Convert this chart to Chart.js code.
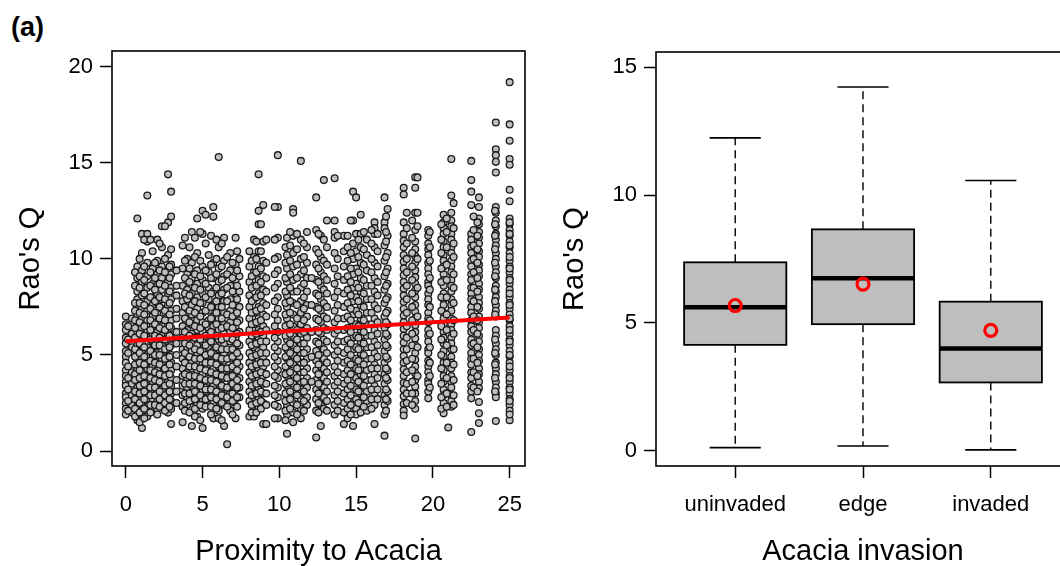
<!DOCTYPE html>
<html>
<head>
<meta charset="utf-8">
<script src="https://cdn.jsdelivr.net/npm/chart.js"></script>
<style>
  html, body { margin: 0; padding: 0; background: #fff; overflow: hidden; }
  body { width: 1060px; height: 566px; position: relative; }
  #tag { position: absolute; left: 11px; top: 12px; font: bold 27px 'Liberation Sans', Arial, sans-serif; }
  .panel { position: absolute; top: 0; width: 540px; height: 566px; }
  #left { left: 0; }
  #right { left: 540px; }
</style>
</head>
<body>
<div id="tag">(a)</div>
<div class="panel" id="left"><canvas id="scatter" width="540" height="566"></canvas></div>
<div class="panel" id="right"><canvas id="boxes" width="540" height="566"></canvas></div>

<script>
  const proximityCols = [0, 0.4, 0.75, 1.05, 1.4, 1.75, 2.05, 2.35, 2.75, 2.95,
    3.7, 4.0, 4.3, 4.65, 5.0, 5.4, 5.7, 6.05, 6.4, 6.6, 6.8, 7.15, 7.4,
    8.05, 8.35, 8.65, 8.95, 9.9, 10.5, 10.9, 11.4, 11.8, 12.4, 12.7, 12.9,
    13.6, 14.2, 14.8, 15.0, 15.3, 15.7, 16.2, 16.85, 17.05,
    18.1, 18.85, 19.7, 20.7, 21.0, 21.2, 22.5, 23.0, 24.1, 25.0,
    0.15, 0.6, 0.9, 1.2, 1.6, 1.9, 2.2, 2.55, 2.85, 3.3, 3.85, 4.15, 4.5, 4.85,
    5.2, 5.55, 5.9, 6.25, 6.6, 6.95, 7.25, 8.2, 8.5, 8.8, 9.15, 9.7, 10.4, 10.7,
    11.15, 11.6, 12.1, 12.55, 13.1, 13.8, 14.45, 14.65, 15.15, 15.5, 16.0, 16.4,
    16.95, 18.3, 18.65, 19.0, 19.8, 20.55, 20.9, 21.35, 22.65, 22.9, 24.05, 25.0];
  const raoQCols = [
    [7.0, 6.6, 6.3, 5.9, 5.6, 5.2, 4.9, 4.6, 4.2, 3.9, 3.6, 3.4, 3.0, 2.8, 2.5, 2.2, 1.9],
    [6.9, 6.1, 5.4, 4.1, 3.5, 2.9, 2.4, 2.0],
    [12.1, 9.6, 9.0, 8.3, 7.9, 7.5, 7.1, 6.6, 6.2, 5.8, 5.5, 5.0, 4.7, 4.3, 4.0, 3.6, 3.3, 2.9, 2.6, 2.3, 1.9, 1.6],
    [11.3, 10.3, 9.4, 8.8, 8.1, 7.4, 6.9, 6.4, 6.0, 5.6, 5.2, 4.8, 4.4, 4.1, 3.7, 3.2, 2.8, 2.4, 2.1, 1.2],
    [13.3, 11.3, 10.9, 9.8, 9.1, 8.5, 7.8, 7.3, 6.8, 6.3, 5.9, 5.4, 5.0, 4.6, 4.3, 3.9, 3.4, 3.0, 2.6, 2.3, 1.8],
    [10.4, 9.5, 8.7, 8.0, 7.6, 7.0, 6.5, 6.1, 5.7, 5.3, 4.9, 4.4, 4.0, 3.6, 3.1, 2.7, 2.2],
    [11.0, 9.9, 9.2, 8.6, 8.2, 7.7, 7.2, 6.7, 6.2, 5.8, 5.4, 5.1, 4.7, 4.2, 3.8, 3.5, 3.1, 2.6, 2.2, 1.9],
    [11.7, 10.6, 9.6, 9.0, 8.4, 7.9, 7.4, 6.9, 6.5, 6.0, 5.6, 5.2, 4.8, 4.5, 4.0, 3.7, 3.2, 2.8, 2.5],
    [14.4, 11.9, 10.2, 9.4, 8.8, 8.1, 7.6, 7.0, 6.6, 6.1, 5.7, 5.3, 4.9, 4.4, 4.1, 3.6, 3.3, 2.9, 2.4, 2.0],
    [13.5, 12.2, 10.5, 9.7, 9.2, 8.5, 7.9, 7.3, 6.8, 6.4, 5.9, 5.5, 5.0, 4.6, 4.2, 3.8, 3.4, 3.0, 2.6, 2.2, 1.4],
    [10.7, 9.5, 8.6, 7.8, 7.2, 6.5, 5.9, 5.3, 4.8, 4.3, 3.9, 3.4, 2.9, 2.3, 1.5],
    [10.0, 9.2, 8.4, 7.9, 7.4, 6.9, 6.3, 5.8, 5.4, 5.0, 4.6, 4.1, 3.7, 3.3, 2.8, 2.4],
    [11.4, 9.8, 9.0, 8.2, 7.6, 7.1, 6.6, 6.1, 5.6, 5.2, 4.7, 4.3, 3.8, 3.4, 3.0, 2.6, 1.3],
    [12.1, 10.3, 9.4, 8.7, 8.0, 7.4, 6.8, 6.3, 5.9, 5.5, 5.1, 4.6, 4.2, 3.7, 3.3, 2.9, 2.5, 1.8],
    [12.5, 11.3, 9.6, 8.9, 8.2, 7.7, 7.2, 6.7, 6.2, 5.7, 5.3, 4.9, 4.5, 4.0, 3.6, 3.1, 2.7, 2.2, 1.2],
    [10.2, 9.3, 8.5, 7.9, 7.3, 6.8, 6.4, 5.9, 5.4, 5.0, 4.5, 4.1, 3.6, 3.2, 2.8, 2.4],
    [12.7, 12.2, 9.8, 9.0, 8.3, 7.6, 7.0, 6.5, 6.0, 5.6, 5.2, 4.7, 4.3, 3.9, 3.4, 3.0, 2.5, 1.7],
    [15.3, 10.6, 9.5, 8.8, 8.1, 7.5, 6.9, 6.3, 5.8, 5.3, 4.9, 4.4, 4.0, 3.5, 3.1, 2.6, 2.1, 1.7],
    [11.1, 9.9, 9.1, 8.4, 7.8, 7.2, 6.6, 6.1, 5.6, 5.1, 4.7, 4.2, 3.8, 3.3, 2.9, 2.4, 1.3],
    [0.35],
    [10.3, 9.4, 8.6, 7.9, 7.3, 6.7, 6.2, 5.7, 5.2, 4.8, 4.3, 3.9, 3.4, 3.0, 2.5, 2.1],
    [11.1, 9.7, 8.9, 8.2, 7.6, 7.0, 6.4, 5.9, 5.5, 5.0, 4.5, 4.1, 3.6, 3.2, 2.7, 1.7],
    [10.0, 9.1, 8.3, 7.5, 6.8, 6.2, 5.5, 4.9, 4.4, 3.8, 3.3, 2.8],
    [10.4, 9.6, 8.8, 8.1, 7.5, 6.9, 6.3, 5.7, 5.1, 4.6, 4.1, 3.6, 3.1, 2.6, 1.8],
    [11.0, 10.1, 9.3, 8.6, 7.9, 7.2, 6.6, 6.0, 5.4, 4.9, 4.3, 3.8, 3.3, 2.8, 2.3, 1.8],
    [14.4, 12.5, 11.8, 10.4, 9.6, 8.9, 8.2, 7.5, 6.9, 6.3, 5.8, 5.2, 4.7, 4.2, 3.7, 3.2, 2.7, 2.2],
    [12.8, 10.9, 9.9, 9.1, 8.4, 7.7, 7.1, 6.5, 6.0, 5.4, 4.9, 4.4, 3.9, 3.5, 3.0, 2.5, 1.4],
    [15.4, 12.7, 11.1, 10.1, 9.4, 8.7, 8.0, 7.4, 6.8, 6.2, 5.7, 5.2, 4.7, 4.2, 3.8, 3.3, 2.8, 2.3, 1.7],
    [11.1, 10.2, 9.5, 8.8, 8.1, 7.5, 6.9, 6.4, 5.8, 5.3, 4.8, 4.3, 3.9, 3.4, 2.9, 2.4, 1.9, 0.9],
    [12.6, 12.4, 11.2, 10.3, 9.6, 8.9, 8.3, 7.7, 7.1, 6.5, 6.0, 5.5, 5.0, 4.5, 4.0, 3.5, 3.0, 2.5, 2.0, 1.5],
    [15.1, 11.0, 10.0, 9.2, 8.5, 7.8, 7.2, 6.6, 6.1, 5.6, 5.1, 4.6, 4.1, 3.6, 3.2, 2.7, 2.2, 1.7],
    [11.4, 10.6, 9.8, 9.0, 8.3, 7.6, 7.0, 6.4, 5.9, 5.3, 4.8, 4.3, 3.8, 3.3, 2.8, 2.4],
    [13.2, 11.5, 10.5, 9.7, 8.9, 8.2, 7.5, 6.9, 6.3, 5.7, 5.2, 4.7, 4.2, 3.7, 3.2, 2.7, 2.1, 0.7],
    [11.2, 10.1, 9.3, 8.6, 7.9, 7.3, 6.7, 6.1, 5.5, 5.0, 4.4, 3.9, 3.4, 2.9, 2.4, 1.3],
    [14.1, 11.0, 9.9, 9.1, 8.4, 7.7, 7.0, 6.4, 5.8, 5.3, 4.8, 4.3, 3.8, 3.3, 2.8, 2.2],
    [14.2, 12.0, 11.4, 11.1, 10.3, 9.5, 8.7, 8.0, 7.3, 6.7, 6.1, 5.5, 5.0, 4.4, 3.9, 3.4, 2.9, 2.4, 1.9],
    [11.2, 10.4, 9.6, 8.9, 8.2, 7.5, 6.9, 6.3, 5.7, 5.1, 4.6, 4.0, 3.5, 3.0, 2.5, 2.0, 1.4],
    [13.5, 12.0, 10.8, 10.0, 9.2, 8.5, 7.8, 7.1, 6.5, 5.9, 5.3, 4.8, 4.2, 3.7, 3.2, 2.7, 2.1, 1.3],
    [13.2, 11.3, 10.4, 9.5, 8.7, 8.0, 7.3, 6.6, 6.0, 5.4, 4.8, 4.3, 3.8, 3.2, 2.7, 2.2, 1.9],
    [12.3, 11.3, 10.6, 9.8, 9.0, 8.3, 7.6, 6.9, 6.3, 5.7, 5.1, 4.5, 4.0, 3.5, 3.0, 2.5, 2.0],
    [11.0, 10.2, 9.4, 8.6, 7.9, 7.2, 6.6, 6.0, 5.4, 4.8, 4.2, 3.7, 3.1, 2.6, 2.1],
    [11.9, 11.6, 11.3, 10.6, 9.8, 9.0, 8.3, 7.6, 6.9, 6.3, 5.7, 5.1, 4.5, 4.0, 3.4, 2.9, 2.4, 1.4],
    [13.2, 11.9, 11.6, 10.7, 9.9, 9.1, 8.4, 7.7, 7.0, 6.4, 5.8, 5.2, 4.6, 4.0, 3.5, 2.9, 2.4, 1.9, 0.8],
    [12.6, 11.2, 10.3, 9.5, 8.7, 8.0, 7.3, 6.6, 6.0, 5.4, 4.8, 4.2, 3.7, 3.1, 2.6],
    [13.7, 13.35, 11.9, 11.3, 10.95, 10.6, 10.2, 9.85, 9.5, 9.15, 8.8, 8.45, 8.1, 7.75, 7.4, 7.05, 6.7, 6.35, 6.0, 5.65, 5.3, 4.95, 4.6, 4.25, 3.9, 3.55, 3.2, 2.85, 2.45, 2.1, 1.85],
    [14.25, 13.7, 12.4, 11.5, 10.9, 10.5, 10.15, 9.8, 9.4, 9.05, 8.7, 8.35, 8.0, 7.6, 7.25, 6.9, 6.55, 6.2, 5.85, 5.5, 5.1, 4.75, 4.4, 4.05, 3.7, 3.35, 3.0, 2.6, 2.2, 0.65],
    [11.5, 11.2, 10.8, 10.5, 10.2, 9.8, 9.5, 9.2, 8.8, 8.6, 8.2, 7.9, 7.6, 7.2, 6.9, 6.7, 6.3, 6.0, 5.7, 5.3, 5.1, 4.7, 4.4, 4.1, 3.7, 3.5, 3.1, 2.74],
    [12.3, 11.9, 11.6, 11.3, 10.9, 10.6, 10.2, 9.9, 9.6, 9.2, 8.9, 8.6, 8.2, 7.9, 7.6, 7.2, 6.9, 6.6, 6.2, 5.9, 5.6, 5.2, 4.9, 4.6, 4.2, 3.9, 3.6, 3.2, 2.9, 2.5, 2.2, 1.96],
    [1.22],
    [15.2, 13.3, 12.4, 12.0, 11.7, 11.3, 11.0, 10.6, 10.3, 9.9, 9.6, 9.3, 8.9, 8.6, 8.3, 7.9, 7.6, 7.3, 6.9, 6.6, 6.3, 5.9, 5.6, 5.3, 4.9, 4.6, 4.3, 3.9, 3.6, 3.3, 2.9, 2.6, 2.3],
    [15.1, 14.1, 13.5, 12.8, 11.3, 11.0, 10.6, 10.3, 9.9, 9.6, 9.2, 8.9, 8.5, 8.2, 7.9, 7.5, 7.2, 6.8, 6.5, 6.2, 5.8, 5.5, 5.1, 4.8, 4.5, 4.1, 3.8, 3.4, 3.1, 2.74, 0.99],
    [13.2, 12.7, 12.1, 11.8, 11.4, 11.1, 10.8, 10.4, 10.1, 9.7, 9.4, 9.1, 8.7, 8.4, 8.0, 7.7, 7.4, 7.0, 6.7, 6.4, 6.0, 5.7, 5.3, 5.0, 4.7, 4.3, 4.0, 3.6, 3.27, 2.55, 1.96, 1.46],
    [17.1, 15.7, 15.4, 15.05, 14.5, 12.7, 12.4, 12.0, 11.7, 11.3, 11.0, 10.7, 10.3, 10.0, 9.6, 9.3, 9.0, 8.6, 8.3, 8.0, 7.6, 7.3, 7.0, 6.3, 6.0, 5.6, 5.3, 5.0, 4.6, 4.3, 4.0, 3.6, 3.3, 3.0, 2.8, 1.56],
    [19.2, 17.0, 16.15, 15.2, 14.9, 13.6, 13.0, 12.1, 11.8, 11.5, 11.2, 10.9, 10.6, 10.3, 9.9, 9.6, 9.3, 9.0, 8.7, 8.4, 8.0, 7.7, 7.4, 7.1, 6.8, 6.5, 6.1, 5.8, 5.5, 5.2, 4.9, 4.6, 4.2, 3.9, 3.6, 3.3, 3.0, 2.7, 2.4, 2.1, 1.6],
    [6.5, 5.8, 5.1, 4.4, 3.8, 3.2, 2.6, 2.1],
    [9.3, 8.6, 7.7, 7.3, 6.8, 6.4, 5.9, 5.3, 4.9, 4.5, 4.0, 3.7, 3.1, 2.7, 2.2, 1.8],
    [10.0, 9.1, 8.5, 7.7, 7.2, 6.7, 6.1, 5.6, 5.1, 4.6, 4.2, 3.8, 3.4, 3.0, 2.5, 2.0, 1.5],
    [11.0, 9.6, 8.9, 8.2, 7.6, 7.1, 6.5, 6.0, 5.4, 4.9, 4.5, 3.9, 3.5, 3.1, 2.7, 2.2, 1.7],
    [11.0, 9.3, 8.6, 8.0, 7.4, 6.8, 6.3, 5.8, 5.2, 4.7, 4.2, 3.8, 3.3, 2.9, 2.4, 2.0],
    [9.8, 9.0, 8.4, 7.8, 7.2, 6.6, 6.0, 5.5, 5.0, 4.6, 4.1, 3.7, 3.3, 2.9, 2.4],
    [10.8, 9.4, 8.7, 8.0, 7.5, 6.9, 6.4, 5.9, 5.5, 5.0, 4.5, 4.0, 3.6, 3.1, 2.7, 2.3],
    [11.7, 10.0, 9.3, 8.6, 7.9, 7.3, 6.8, 6.3, 5.8, 5.3, 4.8, 4.3, 3.9, 3.4, 2.9, 2.5, 2.1],
    [9.6, 9.0, 8.3, 7.7, 7.1, 6.5, 6.0, 5.4, 4.9, 4.5, 4.0, 3.5, 3.1, 2.7, 2.3],
    [9.4, 8.6, 8.1, 7.4, 6.9, 6.2, 5.6, 5.0, 4.4, 3.7, 3.1, 2.5],
    [11.1, 9.9, 9.0, 8.2, 7.5, 6.9, 6.2, 5.6, 5.1, 4.6, 4.0, 3.5, 3.0, 2.5, 2.1],
    [10.6, 9.5, 8.8, 8.1, 7.3, 6.7, 6.0, 5.5, 4.9, 4.4, 3.9, 3.5, 3.0, 2.6, 2.0],
    [11.1, 10.1, 9.2, 8.5, 7.8, 7.2, 6.5, 5.9, 5.3, 4.8, 4.4, 3.9, 3.5, 3.1, 2.7, 2.2, 1.8],
    [11.4, 9.9, 9.1, 8.4, 7.7, 7.0, 6.4, 5.8, 5.2, 4.8, 4.3, 3.8, 3.4, 2.9, 2.4, 1.6],
    [12.3, 10.8, 9.4, 8.7, 8.0, 7.3, 6.6, 6.0, 5.5, 5.0, 4.6, 4.2, 3.7, 3.2, 2.7, 2.3],
    [11.2, 9.7, 9.0, 8.2, 7.5, 6.9, 6.2, 5.7, 5.1, 4.6, 4.1, 3.7, 3.2, 2.8, 2.3, 1.9],
    [11.0, 10.0, 9.2, 8.5, 7.8, 7.2, 6.6, 6.0, 5.4, 4.9, 4.5, 4.0, 3.6, 3.1, 2.7, 2.2],
    [10.8, 9.6, 8.9, 8.2, 7.5, 6.9, 6.4, 5.8, 5.3, 4.8, 4.3, 3.9, 3.4, 2.9, 2.5, 1.6],
    [10.1, 9.2, 8.5, 7.8, 7.1, 6.5, 5.9, 5.3, 4.8, 4.3, 3.8, 3.3, 2.8, 2.3],
    [9.8, 9.0, 8.3, 7.6, 7.0, 6.4, 5.8, 5.3, 4.9, 4.4, 3.9, 3.5, 3.0, 2.6, 1.9],
    [10.4, 9.4, 8.6, 7.9, 7.2, 6.7, 6.1, 5.6, 5.1, 4.6, 4.2, 3.7, 3.3, 2.8, 2.3],
    [9.9, 9.1, 8.5, 7.8, 7.2, 6.6, 6.0, 5.5, 4.9, 4.4, 3.9, 3.4, 2.9, 2.4, 2.0],
    [10.9, 10.0, 9.3, 8.6, 8.0, 7.3, 6.7, 6.1, 5.6, 5.0, 4.5, 4.0, 3.5, 3.0, 2.5, 2.0],
    [11.8, 10.4, 9.5, 8.8, 8.1, 7.4, 6.8, 6.2, 5.7, 5.1, 4.6, 4.1, 3.6, 3.1, 2.6, 2.2],
    [11.0, 9.8, 9.0, 8.3, 7.6, 7.0, 6.3, 5.7, 5.1, 4.6, 4.0, 3.5, 3.0, 2.4, 1.4],
    [12.7, 11.0, 10.0, 9.2, 8.5, 7.8, 7.1, 6.5, 5.9, 5.4, 4.9, 4.4, 3.9, 3.4, 2.9, 2.4, 1.7],
    [10.6, 9.8, 9.0, 8.3, 7.7, 7.1, 6.5, 6.0, 5.4, 4.9, 4.4, 4.0, 3.5, 3.0, 2.6, 2.1, 1.6],
    [11.4, 10.7, 9.9, 9.2, 8.5, 7.8, 7.2, 6.6, 6.1, 5.6, 5.1, 4.6, 4.1, 3.6, 3.1, 2.7, 2.2],
    [11.3, 10.5, 9.7, 9.0, 8.3, 7.6, 6.9, 6.3, 5.8, 5.3, 4.8, 4.3, 3.8, 3.3, 2.9, 2.4, 1.9],
    [10.8, 10.1, 9.4, 8.7, 8.0, 7.4, 6.8, 6.2, 5.6, 5.1, 4.6, 4.1, 3.6, 3.1, 2.6, 2.1],
    [9.0, 7.6, 6.2, 4.9, 3.6],
    [11.3, 10.3, 9.5, 8.8, 8.1, 7.4, 6.8, 6.2, 5.6, 5.0, 4.5, 4.0, 3.5, 3.0, 2.5, 2.0],
    [12.0, 10.6, 9.7, 8.9, 8.2, 7.5, 6.9, 6.3, 5.7, 5.1, 4.6, 4.1, 3.6, 3.1, 2.6, 2.1],
    [11.2, 10.0, 9.1, 8.3, 7.6, 6.9, 6.3, 5.7, 5.2, 4.7, 4.1, 3.6, 3.1, 2.6, 2.1],
    [11.2, 10.6, 9.9, 9.1, 8.4, 7.7, 7.0, 6.4, 5.8, 5.3, 4.7, 4.2, 3.7, 3.2, 2.7, 2.2, 1.7],
    [12.0, 10.3, 9.5, 8.8, 8.1, 7.4, 6.8, 6.2, 5.6, 5.0, 4.5, 4.0, 3.4, 2.9, 2.4, 1.9],
    [11.0, 10.1, 9.3, 8.5, 7.8, 7.1, 6.5, 5.9, 5.3, 4.7, 4.2, 3.6, 3.1, 2.5],
    [11.4, 10.5, 9.7, 8.9, 8.2, 7.5, 6.8, 6.2, 5.6, 5.0, 4.5, 3.9, 3.4, 2.8, 2.3],
    [11.5, 10.8, 10.0, 9.3, 8.6, 7.9, 7.2, 6.6, 6.0, 5.4, 4.8, 4.3, 3.7, 3.2, 2.7, 2.2],
    [11.3, 10.4, 9.6, 8.8, 8.1, 7.4, 6.7, 6.1, 5.5, 4.9, 4.3, 3.8, 3.2, 2.7],
    [12.2, 11.4, 10.9, 10.1, 9.3, 8.6, 7.9, 7.2, 6.7, 6.1, 5.5, 4.9, 4.3, 3.8, 3.2, 2.7, 2.1],
    [12.4, 11.6, 10.8, 10.0, 9.3, 8.6, 7.9, 7.2, 6.5, 5.9, 5.3, 4.7, 4.1, 3.5, 3.0, 2.5],
    [12.0, 11.1, 10.3, 9.6, 8.9, 8.2, 7.5, 6.8, 6.1, 5.5, 4.8, 4.2, 3.6, 3.0, 2.4],
    [14.24, 12.4, 11.7, 10.0, 8.5, 7.0, 5.4, 3.9],
    [11.4, 10.6, 9.9, 9.0, 8.4, 7.5, 6.8, 6.1, 5.4, 4.6, 3.9, 3.3],
    [11.8, 11.0, 10.3, 9.5, 8.8, 8.0, 7.3, 6.5, 5.8, 5.0, 4.3, 3.5, 2.8, 2.2],
    [12.1, 11.4, 10.6, 9.7, 8.9, 8.0, 7.1, 6.3, 5.5, 4.6, 3.8, 3.0, 2.3],
    [12.9, 11.6, 10.8, 10.1, 9.2, 8.5, 7.7, 6.8, 6.1, 5.3, 4.5, 3.7, 2.9, 2.4],
    [12.2, 11.5, 10.7, 10.0, 9.3, 8.5, 7.8, 7.0, 6.3, 5.6, 4.8, 4.1, 3.3],
    [11.9, 11.2, 10.5, 9.8, 9.0, 8.3, 7.5, 6.8, 6.1, 5.4, 4.6, 3.9, 3.1],
    [12.5, 11.8, 11.2, 10.5, 9.8, 9.1, 8.4, 7.8, 7.1, 5.8, 5.1, 4.5, 3.8, 3.1],
    [11.9, 11.3, 10.7, 10.1, 9.5, 8.9, 8.2, 7.6, 6.9, 6.3, 5.7, 5.0, 4.4, 3.8, 3.2, 2.6, 1.9]
  ];
  const fitX = [0, 25];
  const fitY = [5.71, 6.95];
  const proximityTicks = [0, 5, 10, 15, 20, 25];
  const raoTicksLeft = [0, 5, 10, 15, 20];

  // (a) right: boxplot by invasion class
  const groups = ['uninvaded', 'edge', 'invaded'];
  const whiskerLow = [0.12, 0.18, 0.03];
  const q1 = [4.14, 4.95, 2.67];
  const median = [5.61, 6.75, 4.0];
  const q3 = [7.37, 8.66, 5.83];
  const whiskerHigh = [12.24, 14.23, 10.57];
  const means = [5.68, 6.52, 4.71];
  const raoTicksRight = [0, 5, 10, 15];

  const FONT = "'Liberation Sans', Arial, sans-serif";
  Chart.defaults.font.family = FONT;
  Chart.defaults.color = '#000';

  const frame = {
    id: 'frame',
    afterDraw(chart) {
      const { ctx, chartArea: a } = chart;
      ctx.save();
      ctx.strokeStyle = '#000';
      ctx.lineWidth = 1.6;
      ctx.strokeRect(a.left, a.top, a.right - a.left, a.bottom - a.top);
      ctx.restore();
    }
  };

  const fixTicks = vals => s => { s.ticks = vals.map(v => ({ value: v })); };

  function xAxis(min, max, vals, title, cb) {
    return {
      type: 'linear', min: min, max: max,
      afterBuildTicks: fixTicks(vals),
      afterFit: s => { s.height = 100; },
      border: { display: false },
      grid: { drawOnChartArea: false, tickLength: 12, tickWidth: 1.5, tickColor: '#000' },
      ticks: { font: { size: 22 }, padding: 14, color: '#000', maxRotation: 0, callback: cb },
      title: { display: true, text: title, font: { size: 29, lineHeight: 1 }, padding: 0 }
    };
  }
  function yAxis(min, max, vals, width, titlePad) {
    return {
      type: 'linear', min: min, max: max,
      afterBuildTicks: fixTicks(vals),
      afterFit: s => { s.width = width; },
      border: { display: false },
      grid: { drawOnChartArea: false, tickLength: 12, tickWidth: 1.5, tickColor: '#000' },
      ticks: { font: { size: 22 }, padding: 7, color: '#000' },
      title: { display: true, text: "Rao's Q", font: { size: 29, lineHeight: 1 }, padding: { top: titlePad } }
    };
  }

  const points = [];
  proximityCols.forEach((px, i) => {
    raoQCols[i].forEach(v => points.push({ x: px, y: v }));
  });

  new Chart(document.getElementById('scatter'), {
    type: 'scatter',
    data: {
      datasets: [
        {
          type: 'line',
          data: fitX.map((v, i) => ({ x: v, y: fitY[i] })),
          borderColor: '#ff0000',
          borderWidth: 4,
          pointRadius: 0,
          order: 0
        },
        {
          data: points,
          pointRadius: 3.4,
          pointBorderWidth: 1.3,
          pointBorderColor: '#1a1a1a',
          pointBackgroundColor: '#bebebe',
          order: 1
        }
      ]
    },
    options: {
      responsive: false,
      animation: false,
      layout: { padding: { left: 0, right: 15, top: 51, bottom: 0 } },
      plugins: { legend: { display: false }, tooltip: { enabled: false } },
      scales: {
        x: xAxis(-0.9, 26, proximityTicks, 'Proximity to Acacia'),
        y: yAxis(-0.78, 20.82, raoTicksLeft, 112, 16)
      }
    },
    plugins: [frame]
  });

  // boxes, whiskers and medians are drawn through the chart's own scales
  const boxPlot = {
    id: 'boxPlot',
    beforeDatasetsDraw(chart) {
      const { ctx, scales: { x, y } } = chart;
      ctx.save();
      ctx.strokeStyle = '#000';
      groups.forEach((g, i) => {
        const c = x.getPixelForValue(i + 1);
        const half = x.getPixelForValue(i + 1.4) - c;
        const cap = x.getPixelForValue(i + 1.2) - c;
        const lo = y.getPixelForValue(whiskerLow[i]);
        const b1 = y.getPixelForValue(q1[i]);
        const md = y.getPixelForValue(median[i]);
        const b3 = y.getPixelForValue(q3[i]);
        const hi = y.getPixelForValue(whiskerHigh[i]);

        ctx.lineWidth = 1.4;
        ctx.setLineDash([8, 5]);
        ctx.beginPath();
        ctx.moveTo(c, b3); ctx.lineTo(c, hi);
        ctx.moveTo(c, b1); ctx.lineTo(c, lo);
        ctx.stroke();
        ctx.setLineDash([]);

        ctx.lineWidth = 1.6;
        ctx.beginPath();
        ctx.moveTo(c - cap, hi); ctx.lineTo(c + cap, hi);
        ctx.moveTo(c - cap, lo); ctx.lineTo(c + cap, lo);
        ctx.stroke();

        ctx.fillStyle = '#bebebe';
        ctx.fillRect(c - half, b3, 2 * half, b1 - b3);
        ctx.lineWidth = 1.8;
        ctx.strokeRect(c - half, b3, 2 * half, b1 - b3);

        ctx.lineWidth = 4.5;
        ctx.beginPath();
        ctx.moveTo(c - half, md); ctx.lineTo(c + half, md);
        ctx.stroke();
      });
      ctx.restore();
    }
  };

  new Chart(document.getElementById('boxes'), {
    type: 'scatter',
    data: {
      datasets: [{
        data: means.map((m, i) => ({ x: i + 1, y: m })),
        pointRadius: 6,
        pointBorderWidth: 3.2,
        pointBorderColor: '#ff0000',
        pointBackgroundColor: 'rgba(0,0,0,0)'
      }]
    },
    options: {
      responsive: false,
      animation: false,
      layout: { padding: { left: 0, right: 10, top: 52, bottom: 0 } },
      plugins: { legend: { display: false }, tooltip: { enabled: false } },
      scales: {
        x: xAxis(0.38, 3.62, [1, 2, 3], 'Acacia invasion', v => groups[v - 1]),
        y: yAxis(-0.6, 15.6, raoTicksRight, 116, 20)
      }
    },
    plugins: [boxPlot, frame]
  });
</script>
</body>
</html>
